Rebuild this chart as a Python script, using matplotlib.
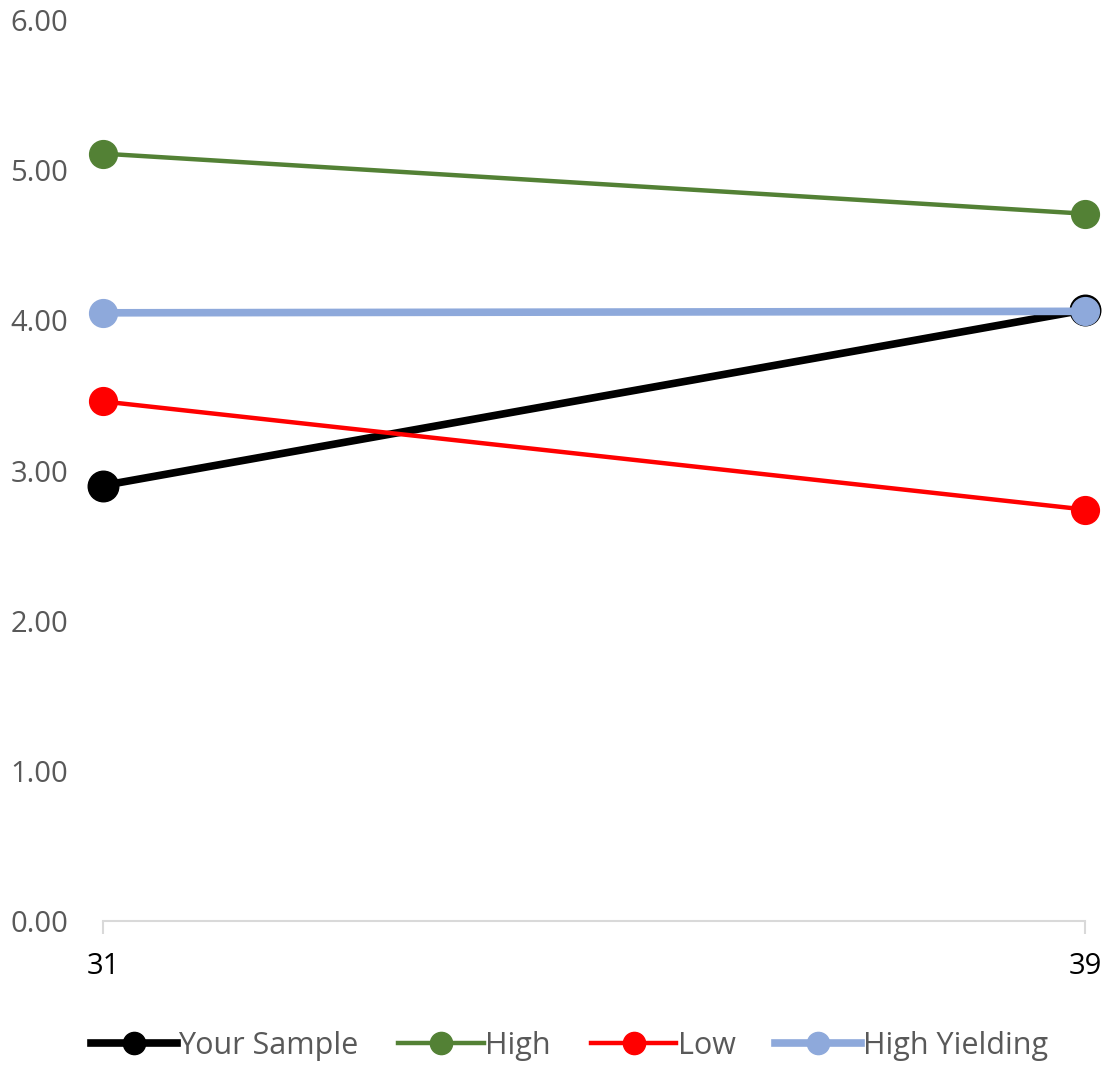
import matplotlib
matplotlib.use("Agg")
import matplotlib.pyplot as plt
from matplotlib.lines import Line2D

plt.rcParams['font.family'] = ['Open Sans', 'DejaVu Sans']

categories = ["31", "39"]
your_sample = [2.90, 4.07]
high = [5.11, 4.71]
low = [3.46, 2.74]
high_yielding = [4.05, 4.06]

series = [
    ("Your Sample", your_sample, "#000000", 5.5, 22),
    ("High", high, "#538135", 3.2, 20),
    ("Low", low, "#FF0000", 3.2, 20),
    ("High Yielding", high_yielding, "#8EA9DB", 5.5, 20),
]

fig = plt.figure(figsize=(11.08, 10.70), dpi=100)
ax = fig.add_axes([103/1108, 149/1070, (1085-103)/1108, (921-20)/1070])
x = list(range(len(categories)))
for name, vals, col, lw, ms in series:
    ax.plot(x, vals, color=col, lw=lw, marker='o', ms=ms, mec=col, mfc=col,
            label=name, clip_on=False, solid_capstyle='butt')

ax.set_xlim(0, 1)
ax.set_ylim(0, 6)
ax.set_yticks([0, 1, 2, 3, 4, 5, 6])
ax.set_yticklabels([f"{v:.2f}" for v in range(7)])
ax.set_xticks(x)
ax.set_xticklabels(categories)
for s in ['top', 'right', 'left']:
    ax.spines[s].set_visible(False)
ax.spines['bottom'].set_color('#D9D9D9')
ax.spines['bottom'].set_linewidth(1.5)
ax.tick_params(axis='y', length=0, labelsize=21, labelcolor='#595959', pad=25)
ax.tick_params(axis='x', length=9, width=1.5, color='#D9D9D9', labelsize=21,
               labelcolor='#000000', pad=13)

handles = [Line2D([0], [0], color=c, lw=lw, marker='o', ms=16, mec=c, mfc=c)
           for _, _, c, lw, _ in series]
fig.legend(handles, [s[0] for s in series], loc='center', bbox_to_anchor=(0.514, 1 - 1046/1070),
           ncol=4, frameon=False, fontsize=22, handlelength=2.8, handletextpad=0.05,
           columnspacing=1.3, labelcolor='#595959')

fig.savefig("out.png", dpi=100)
